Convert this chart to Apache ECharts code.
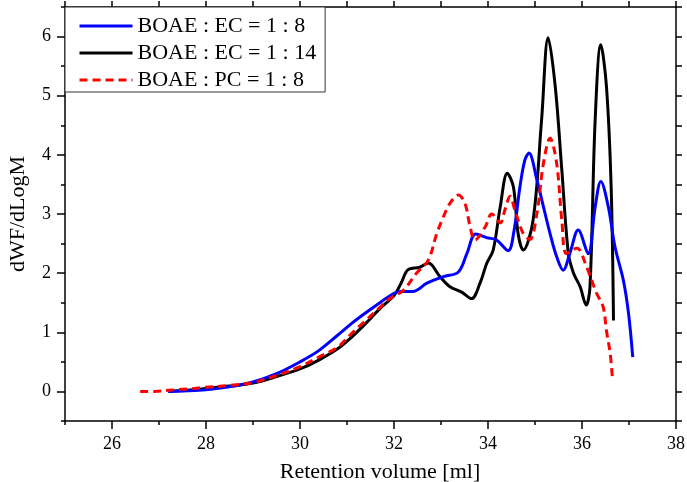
<!DOCTYPE html>
<html>
<head>
<meta charset="utf-8">
<script src="https://cdn.jsdelivr.net/npm/echarts@6/dist/echarts.min.js"></script>
<style>html,body{margin:0;padding:0;background:#fff;}#c{width:687px;height:482px;}</style>
</head>
<body>
<div id="c"></div>
<script>
// ---- data ----
const seriesNames = ['BOAE : EC = 1 : 8', 'BOAE : EC = 1 : 14', 'BOAE : PC = 1 : 8'];

const xBlue = [27.2, 27.6, 28.0, 28.5, 29.0, 29.5, 30.0, 30.4, 30.8, 31.1, 31.4, 31.7, 32.0, 32.15, 32.4, 32.7, 33.05, 33.37, 33.55, 33.74, 33.97, 34.18, 34.43, 34.55, 34.68, 34.78, 34.87, 35.04, 35.18, 35.32, 35.46, 35.6, 35.74, 35.92, 36.13, 36.28, 36.4, 36.56, 36.7, 36.88, 36.99, 37.08];
const yBlue = [0, 0.01, 0.03, 0.08, 0.16, 0.3, 0.5, 0.69, 0.95, 1.15, 1.33, 1.5, 1.66, 1.69, 1.69, 1.83, 1.94, 2.02, 2.33, 2.66, 2.6, 2.56, 2.38, 2.7, 3.46, 3.9, 4.03, 3.58, 3.12, 2.67, 2.28, 2.05, 2.33, 2.73, 2.33, 3.12, 3.55, 3.12, 2.45, 1.88, 1.32, 0.58];

const xBlack = [27.2, 27.6, 28.0, 28.5, 29.0, 29.5, 30.0, 30.4, 30.8, 31.1, 31.4, 31.7, 32.0, 32.15, 32.3, 32.55, 32.73, 32.98, 33.19, 33.44, 33.65, 33.83, 33.97, 34.11, 34.26, 34.41, 34.54, 34.64, 34.75, 34.96, 35.14, 35.28, 35.43, 35.57, 35.71, 35.82, 35.96, 36.09, 36.17, 36.28, 36.4, 36.52, 36.62, 36.67];
const yBlack = [0, 0.02, 0.05, 0.09, 0.14, 0.25, 0.38, 0.53, 0.72, 0.92, 1.15, 1.4, 1.62, 1.83, 2.06, 2.1, 2.17, 1.94, 1.77, 1.68, 1.57, 1.83, 2.16, 2.39, 3.12, 3.69, 3.46, 2.67, 2.39, 2.9, 4.59, 5.98, 5.16, 3.75, 2.33, 2.0, 1.77, 1.46, 1.77, 4.59, 5.86, 5.16, 3.46, 1.2];

const xRed = [26.6, 26.9, 27.2, 27.6, 28.0, 28.5, 29.0, 29.5, 30.0, 30.4, 30.8, 31.1, 31.4, 31.7, 31.91, 32.2, 32.48, 32.73, 32.91, 33.05, 33.19, 33.37, 33.51, 33.62, 33.72, 33.94, 34.08, 34.26, 34.36, 34.47, 34.57, 34.75, 34.89, 35.04, 35.18, 35.32, 35.46, 35.57, 35.67, 35.89, 36.1, 36.31, 36.45, 36.52, 36.6, 36.65];
const yRed = [0, 0, 0.02, 0.04, 0.07, 0.1, 0.15, 0.27, 0.42, 0.58, 0.75, 0.98, 1.2, 1.42, 1.57, 1.71, 2.0, 2.22, 2.67, 2.95, 3.18, 3.32, 3.18, 2.78, 2.56, 2.78, 3.0, 2.85, 3.07, 3.3, 3.07, 2.67, 2.57, 3.01, 3.86, 4.28, 3.86, 2.9, 2.33, 2.42, 2.1, 1.66, 1.43, 1.03, 0.64, 0.19];

const xMajorTicks = [26, 28, 30, 32, 34, 36, 38];
const xMinorTicks = [25, 27, 29, 31, 33, 35, 37];
const xAllTicks = [25, 26, 27, 28, 29, 30, 31, 32, 33, 34, 35, 36, 37, 38];
const yMajorTicks = [0, 1, 2, 3, 4, 5, 6];
const yMinorTicks = [-0.5, 0.5, 1.5, 2.5, 3.5, 4.5, 5.5, 6.5];
const yAllTicks = [-0.5, 0, 0.5, 1, 1.5, 2, 2.5, 3, 3.5, 4, 4.5, 5, 5.5, 6, 6.5];

const zip = (xs, ys) => xs.map((x, i) => [x, ys[i]]);

const FONT = '"Liberation Serif", "Times New Roman", serif';
const AX = { color: '#000', width: 1.5 };

function baseX(extra) {
  return Object.assign({
    type: 'value', min: 25, max: 38, gridIndex: 0,
    splitLine: { show: false },
    axisLine: { show: false, onZero: false, lineStyle: AX },
    axisLabel: { show: false },
    axisTick: { show: false }
  }, extra);
}
function baseY(extra) {
  return Object.assign({
    type: 'value', min: -0.5, max: 6.5, gridIndex: 0,
    splitLine: { show: false },
    axisLine: { show: false, onZero: false, lineStyle: AX },
    axisLabel: { show: false },
    axisTick: { show: false }
  }, extra);
}

const chart = echarts.init(document.getElementById('c'), null, { renderer: 'canvas' });
chart.setOption({
  animation: false,
  backgroundColor: '#fff',
  grid: { left: 65, right: 11, top: 7, bottom: 61, containLabel: false, outerBoundsMode: 'none' },
  legend: {
    orient: 'vertical', left: 65, top: 7,
    padding: [8, 9, 1, 13],
    itemWidth: 53, itemHeight: 14, itemGap: 5,
    borderColor: '#333', borderWidth: 1, backgroundColor: '#fff',
    itemStyle: { opacity: 0 },
    lineStyle: { width: 3 },
    textStyle: { fontFamily: FONT, fontSize: 22, color: '#000', lineHeight: 22 },
    data: seriesNames
  },
  xAxis: [
    baseX({
      position: 'bottom',
      axisLine: { show: true, onZero: false, lineStyle: AX },
      axisTick: { show: true, customValues: xMajorTicks, length: 8, lineStyle: AX },
      axisLabel: { show: true, customValues: xMajorTicks, fontFamily: FONT, fontSize: 18, color: '#000', margin: 14 },
      name: 'Retention volume [ml]', nameLocation: 'middle', nameGap: 40,
      nameTextStyle: { fontFamily: FONT, fontSize: 22, color: '#000', padding: [0, 0, 0, 19] }
    }),
    baseX({ position: 'bottom', axisTick: { show: true, customValues: xMinorTicks, length: 4, lineStyle: AX } }),
    baseX({
      position: 'top',
      axisLine: { show: true, onZero: false, lineStyle: AX },
      axisTick: { show: true, customValues: xAllTicks, length: 6, lineStyle: AX }
    })
  ],
  yAxis: [
    baseY({
      position: 'left',
      axisLine: { show: true, onZero: false, lineStyle: AX },
      axisTick: { show: true, customValues: yMajorTicks, length: 8, lineStyle: AX },
      axisLabel: { show: true, customValues: yMajorTicks, fontFamily: FONT, fontSize: 18, color: '#000', margin: 14 },
      name: 'dWF/dLogM', nameLocation: 'middle', nameGap: 36, nameRotate: 90,
      nameTextStyle: { fontFamily: FONT, fontSize: 22, color: '#000' }
    }),
    baseY({ position: 'left', axisTick: { show: true, customValues: yMinorTicks, length: 4, lineStyle: AX } }),
    baseY({
      position: 'right',
      axisLine: { show: true, onZero: false, lineStyle: AX },
      axisTick: { show: true, customValues: yAllTicks, length: 6, lineStyle: AX }
    })
  ],
  series: [
    {
      name: seriesNames[0], type: 'line', xAxisIndex: 0, yAxisIndex: 0,
      data: zip(xBlue, yBlue), smooth: 0.35, showSymbol: false, symbol: 'none',
      lineStyle: { color: '#0000ff', width: 3 }, itemStyle: { color: '#0000ff' }, z: 3
    },
    {
      name: seriesNames[1], type: 'line', xAxisIndex: 0, yAxisIndex: 0,
      data: zip(xBlack, yBlack), smooth: 0.35, showSymbol: false, symbol: 'none',
      lineStyle: { color: '#000000', width: 3 }, itemStyle: { color: '#000000' }, z: 2
    },
    {
      name: seriesNames[2], type: 'line', xAxisIndex: 0, yAxisIndex: 0,
      data: zip(xRed, yRed), smooth: 0.35, showSymbol: false, symbol: 'none',
      lineStyle: { color: '#ff0000', width: 3, type: [8, 5] }, itemStyle: { color: '#ff0000' }, z: 4
    }
  ]
});
</script>
</body>
</html>
